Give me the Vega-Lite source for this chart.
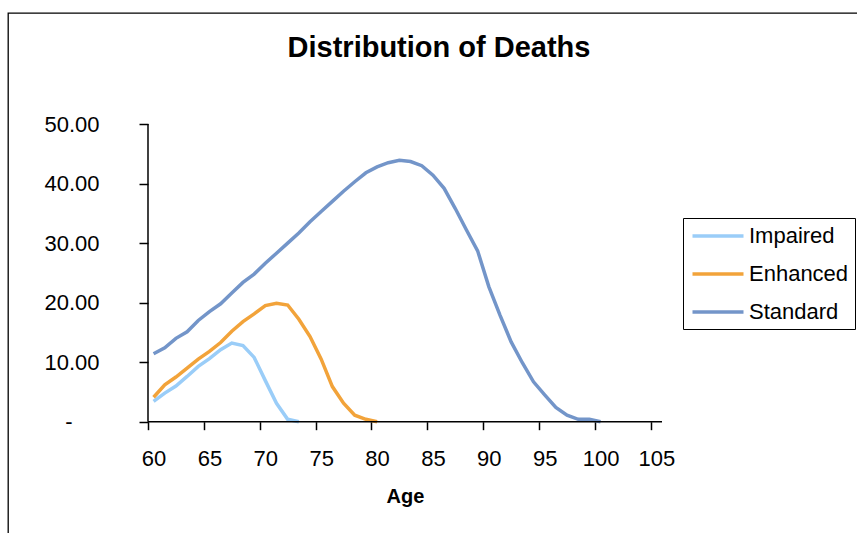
{
  "$schema": "https://vega.github.io/schema/vega-lite/v6.json",
  "autosize": {"type": "none"},
  "padding": {"left": 8, "top": 13, "right": 0, "bottom": 0},
  "width": 851,
  "height": 522,
  "background": "white",
  "title": {"text": "Distribution of Deaths", "fontSize": 29, "fontWeight": "bold", "font": "Liberation Sans", "color": "black", "anchor": "middle", "frame": "group", "baseline": "alphabetic", "offset": -72.7, "dx": 5.5},
  "config": {
    "view": {"stroke": "black", "strokeWidth": 1.3},
    "font": "Liberation Sans",
    "axis": {"labelFont": "Liberation Sans", "titleFont": "Liberation Sans", "grid": false, "domain": false, "labelColor": "black", "tickColor": "black", "titleColor": "black"}
  },
  "data": {"values": [
    {"series": "Impaired", "age": 60, "value": 3.4},
    {"series": "Impaired", "age": 61, "value": 4.8},
    {"series": "Impaired", "age": 62, "value": 6.0},
    {"series": "Impaired", "age": 63, "value": 7.6},
    {"series": "Impaired", "age": 64, "value": 9.3},
    {"series": "Impaired", "age": 65, "value": 10.6},
    {"series": "Impaired", "age": 66, "value": 12.1},
    {"series": "Impaired", "age": 67, "value": 13.2},
    {"series": "Impaired", "age": 68, "value": 12.8},
    {"series": "Impaired", "age": 69, "value": 10.8},
    {"series": "Impaired", "age": 70, "value": 6.9},
    {"series": "Impaired", "age": 71, "value": 3.1},
    {"series": "Impaired", "age": 72, "value": 0.4},
    {"series": "Impaired", "age": 73, "value": 0.0},
    {"series": "Enhanced", "age": 60, "value": 4.1},
    {"series": "Enhanced", "age": 61, "value": 6.2},
    {"series": "Enhanced", "age": 62, "value": 7.5},
    {"series": "Enhanced", "age": 63, "value": 9.0},
    {"series": "Enhanced", "age": 64, "value": 10.5},
    {"series": "Enhanced", "age": 65, "value": 11.8},
    {"series": "Enhanced", "age": 66, "value": 13.3},
    {"series": "Enhanced", "age": 67, "value": 15.2},
    {"series": "Enhanced", "age": 68, "value": 16.8},
    {"series": "Enhanced", "age": 69, "value": 18.1},
    {"series": "Enhanced", "age": 70, "value": 19.5},
    {"series": "Enhanced", "age": 71, "value": 19.9},
    {"series": "Enhanced", "age": 72, "value": 19.6},
    {"series": "Enhanced", "age": 73, "value": 17.2},
    {"series": "Enhanced", "age": 74, "value": 14.3},
    {"series": "Enhanced", "age": 75, "value": 10.5},
    {"series": "Enhanced", "age": 76, "value": 5.9},
    {"series": "Enhanced", "age": 77, "value": 3.1},
    {"series": "Enhanced", "age": 78, "value": 1.1},
    {"series": "Enhanced", "age": 79, "value": 0.4},
    {"series": "Enhanced", "age": 80, "value": 0.0},
    {"series": "Standard", "age": 60, "value": 11.4},
    {"series": "Standard", "age": 61, "value": 12.4},
    {"series": "Standard", "age": 62, "value": 14.0},
    {"series": "Standard", "age": 63, "value": 15.1},
    {"series": "Standard", "age": 64, "value": 17.0},
    {"series": "Standard", "age": 65, "value": 18.5},
    {"series": "Standard", "age": 66, "value": 19.8},
    {"series": "Standard", "age": 67, "value": 21.6},
    {"series": "Standard", "age": 68, "value": 23.4},
    {"series": "Standard", "age": 69, "value": 24.8},
    {"series": "Standard", "age": 70, "value": 26.6},
    {"series": "Standard", "age": 71, "value": 28.3},
    {"series": "Standard", "age": 72, "value": 30.0},
    {"series": "Standard", "age": 73, "value": 31.7},
    {"series": "Standard", "age": 74, "value": 33.6},
    {"series": "Standard", "age": 75, "value": 35.3},
    {"series": "Standard", "age": 76, "value": 37.0},
    {"series": "Standard", "age": 77, "value": 38.7},
    {"series": "Standard", "age": 78, "value": 40.3},
    {"series": "Standard", "age": 79, "value": 41.8},
    {"series": "Standard", "age": 80, "value": 42.8},
    {"series": "Standard", "age": 81, "value": 43.5},
    {"series": "Standard", "age": 82, "value": 43.9},
    {"series": "Standard", "age": 83, "value": 43.7},
    {"series": "Standard", "age": 84, "value": 43.0},
    {"series": "Standard", "age": 85, "value": 41.4},
    {"series": "Standard", "age": 86, "value": 39.2},
    {"series": "Standard", "age": 87, "value": 35.8},
    {"series": "Standard", "age": 88, "value": 32.2},
    {"series": "Standard", "age": 89, "value": 28.7},
    {"series": "Standard", "age": 90, "value": 22.7},
    {"series": "Standard", "age": 91, "value": 17.9},
    {"series": "Standard", "age": 92, "value": 13.4},
    {"series": "Standard", "age": 93, "value": 9.9},
    {"series": "Standard", "age": 94, "value": 6.7},
    {"series": "Standard", "age": 95, "value": 4.5},
    {"series": "Standard", "age": 96, "value": 2.4},
    {"series": "Standard", "age": 97, "value": 1.1},
    {"series": "Standard", "age": 98, "value": 0.4},
    {"series": "Standard", "age": 99, "value": 0.4},
    {"series": "Standard", "age": 100, "value": 0.0}
  ]},
  "layer": [
    {
      "mark": {"type": "line", "strokeWidth": 3.5},
      "encoding": {
        "x": {"field": "age", "type": "quantitative",
          "scale": {"domain": [46.971, 123.13], "nice": false, "zero": false},
          "axis": {"orient": "bottom", "offset": -113.3, "values": [60, 65, 70, 75, 80, 85, 90, 95, 100, 105], "tickOffset": -5.587, "labelOffset": 5.587, "tickSize": 8, "tickWidth": 1.5, "labelFontSize": 22, "labelPadding": 19, "labelFlush": false, "labelOverlap": false, "format": "d", "title": "Age", "titleFontSize": 20, "titleFontWeight": "bold", "titleX": 397, "titleY": 81, "titleBaseline": "alphabetic", "titleAlign": "center"}},
        "y": {"field": "value", "type": "quantitative",
          "scale": {"domain": [-19.029, 68.643], "nice": false, "zero": false},
          "axis": {"orient": "left", "offset": -140, "values": [0, 10, 20, 30, 40, 50], "tickSize": 9, "tickWidth": 1.5, "labelPadding": {"condition": {"test": "datum.value === 0", "value": 67}, "value": 40}, "labelFontSize": 22, "labelOverlap": false, "labelExpr": "datum.value === 0 ? '-' : format(datum.value, '.2f')", "title": null}},
        "color": {"field": "series", "type": "nominal",
          "scale": {"domain": ["Impaired", "Enhanced", "Standard"], "range": ["#9ACDF8", "#F2A33A", "#7395C9"]},
          "legend": {"orient": "none", "legendX": 675, "legendY": 205, "title": null, "symbolType": "M-2.55,0H2.55", "symbolSize": 400, "symbolStrokeWidth": 3.5, "symbolOffset": 17, "labelOffset": 19, "labelFontSize": 22, "labelColor": "black", "labelFont": "Liberation Sans", "strokeColor": "black", "fillColor": "white", "padding": 6, "rowPadding": 15}}
      }
    },
    {
      "data": {"values": [{}]},
      "mark": {"type": "rule", "color": "black", "strokeWidth": 1.5},
      "encoding": {"x": {"datum": 59.5}, "x2": {"datum": 105.5}, "y": {"datum": 0}}
    },
    {
      "data": {"values": [{}]},
      "mark": {"type": "rule", "color": "black", "strokeWidth": 1.5},
      "encoding": {"x": {"datum": 59.5}, "y": {"datum": 0}, "y2": {"datum": 50}}
    }
  ]
}
